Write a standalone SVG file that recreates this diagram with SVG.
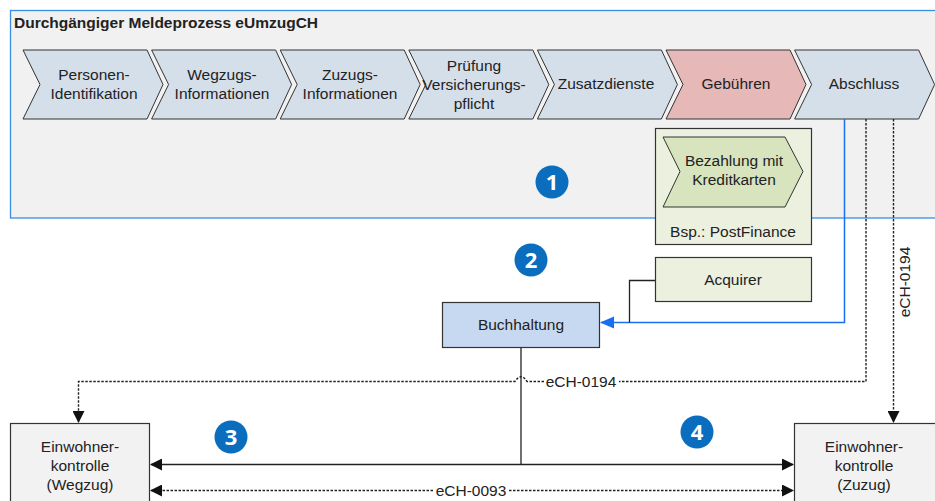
<svg xmlns="http://www.w3.org/2000/svg" width="935" height="501" viewBox="0 0 935 501">
<style>
text{font-family:"Liberation Sans",Arial,sans-serif;font-size:15.5px;fill:#222;text-anchor:middle}
.chev{stroke:#333;stroke-width:1;fill:#d5dfea}
.box{stroke:#333;stroke-width:1.2}
.dot{fill:none;stroke:#222;stroke-width:1.4;stroke-dasharray:2.5,1.5}
.ln{fill:none;stroke:#222;stroke-width:1.3}
.num circle{fill:#0a6dbd}
.num text{fill:#fff;font-family:"Open Sans","DejaVu Sans",sans-serif;font-weight:bold;font-size:22px}
</style>
<defs>
<marker id="ab" markerWidth="12" markerHeight="12" refX="11" refY="6" orient="auto" markerUnits="userSpaceOnUse"><path d="M0,0 L12,6 L0,12 Z" fill="#111"/></marker>
<marker id="abl" markerWidth="14" markerHeight="14" refX="13" refY="7" orient="auto" markerUnits="userSpaceOnUse"><path d="M0,1 L14,7 L0,13 Z" fill="#1a6ff0"/></marker>
</defs>
<rect width="935" height="501" fill="#fff"/>
<g id="container">
<rect x="10.5" y="10.5" width="930" height="207.5" fill="#f1f1f1" stroke="#3a8ee0" stroke-width="1.3"/>
<text x="14" y="28" style="text-anchor:start;font-weight:bold;font-size:15.5px">Durchgängiger Meldeprozess eUmzugCH</text>
</g>
<g id="step1"><path class="chev" d="M23,50 H147 L163,84.5 L147,119 H23 L40,84.5 Z"/><text x="94" y="80">Personen-</text><text x="94" y="99">Identifikation</text></g>
<g id="step2"><path class="chev" d="M151.6,50 H275.6 L291.6,84.5 L275.6,119 H151.6 L168.6,84.5 Z"/><text x="222" y="80">Wegzugs-</text><text x="222" y="99">Informationen</text></g>
<g id="step3"><path class="chev" d="M280.2,50 H404.2 L420.2,84.5 L404.2,119 H280.2 L297.2,84.5 Z"/><text x="350" y="80">Zuzugs-</text><text x="350" y="99">Informationen</text></g>
<g id="step4"><path class="chev" d="M408.8,50 H532.8 L548.8,84.5 L532.8,119 H408.8 L425.8,84.5 Z"/><text x="474" y="71">Prüfung</text><text x="474" y="90">Versicherungs-</text><text x="474" y="109">pflicht</text></g>
<g id="step5"><path class="chev" d="M537.4,50 H661.4 L677.4,84.5 L661.4,119 H537.4 L554.4,84.5 Z"/><text x="606" y="89">Zusatzdienste</text></g>
<g id="step6"><path class="chev" d="M666,50 H790 L806,84.5 L790,119 H666 L683,84.5 Z" style="fill:#e6b8b7"/><text x="736" y="89">Gebühren</text></g>
<g id="step7"><path class="chev" d="M794.6,50 H918.6 L934.6,84.5 L918.6,119 H794.6 L811.6,84.5 Z"/><text x="864" y="89">Abschluss</text></g>
<g id="bezahlung">
<rect class="box" x="655.5" y="128.5" width="156" height="116" fill="#ebf1de"/>
<path d="M663,137 H785 L803,171.5 L785,207 H663 L680,171.5 Z" fill="#d7e4bd" stroke="#333" stroke-width="1"/>
<text x="734" y="166">Bezahlung mit</text><text x="734" y="185">Kreditkarten</text>
<text x="733" y="237">Bsp.: PostFinance</text>
</g>
<g id="acquirer"><rect class="box" x="655.5" y="257.5" width="156" height="44" fill="#ebf1de"/><text x="733" y="285">Acquirer</text></g>
<g id="buchhaltung"><rect class="box" x="442.5" y="302.5" width="157" height="45" fill="#c6d9f0"/><text x="521" y="330">Buchhaltung</text></g>
<g id="wegzug"><rect class="box" x="10.5" y="423.5" width="139" height="90" fill="#f2f2f2"/><text x="80" y="452">Einwohner-</text><text x="80" y="471">kontrolle</text><text x="80" y="490">(Wegzug)</text></g>
<g id="zuzug"><rect class="box" x="794.5" y="423.5" width="150" height="90" fill="#f2f2f2"/><text x="864" y="452">Einwohner-</text><text x="864" y="471">kontrolle</text><text x="864" y="490">(Zuzug)</text></g>
<g id="connectors">
<path d="M844.5,119 V322.5 H601" fill="none" stroke="#1a6ff0" stroke-width="1.5" marker-end="url(#abl)"/>
<path class="ln" d="M655,280.5 H629.5 V322.5"/>
<path class="dot" d="M866,119 V381.5 H619"/>
<path class="dot" d="M544,381.5 H527 Q521,372 515,381.5 H78.5 V422" marker-end="url(#ab)"/>
<text x="581" y="387">eCH-0194</text>
<path class="dot" d="M893.5,119 V422" marker-end="url(#ab)"/>
<text transform="translate(910,282) rotate(-90)">eCH-0194</text>
<path class="ln" d="M521,348 V464.5"/>
<path class="ln" d="M521,464.5 H793" marker-end="url(#ab)"/>
<path class="ln" d="M521,464.5 H151" marker-end="url(#ab)"/>
<path class="dot" d="M433,490.5 H151" marker-end="url(#ab)"/>
<path class="dot" d="M509,490.5 H793" marker-end="url(#ab)"/>
<text x="471" y="496">eCH-0093</text>
</g>
<g id="n1" class="num"><circle cx="552" cy="182" r="16.5"/><text x="552" y="190">1</text></g>
<g id="n2" class="num"><circle cx="531" cy="260" r="16.5"/><text x="531" y="268">2</text></g>
<g id="n3" class="num"><circle cx="231" cy="437" r="16.5"/><text x="231" y="445">3</text></g>
<g id="n4" class="num"><circle cx="697" cy="432" r="16.5"/><text x="697" y="440">4</text></g>
</svg>
